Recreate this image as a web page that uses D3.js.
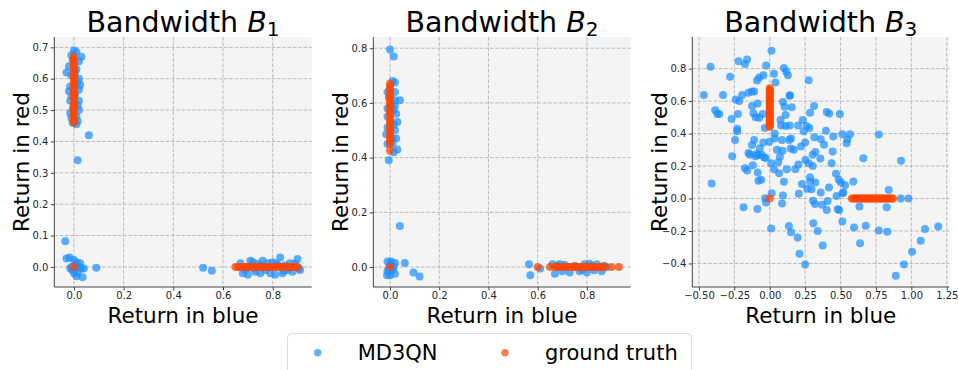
<!DOCTYPE html>
<html><head><meta charset="utf-8">
<script src="https://cdn.jsdelivr.net/npm/d3@7"></script>
<style>body{margin:0;background:#fff;}svg{display:block;font-family:"DejaVu Sans",sans-serif;}</style>
</head><body><svg id="c" width="958" height="370"></svg>
<script>
// ---------- data ----------
const titles = ["B1", "B2", "B3"];
const xTicksB1 = [0.0, 0.2, 0.4, 0.6, 0.8];
const yTicksB1 = [0.0, 0.1, 0.2, 0.3, 0.4, 0.5, 0.6, 0.7];
const xTicksB2 = [0.0, 0.2, 0.4, 0.6, 0.8];
const yTicksB2 = [0.0, 0.2, 0.4, 0.6, 0.8];
const xTicksB3 = [-0.5, -0.25, 0.0, 0.25, 0.5, 0.75, 1.0, 1.25];
const yTicksB3 = [-0.4, -0.2, 0.0, 0.2, 0.4, 0.6, 0.8];

const md3qnB1 = [
 [0.0,0.69],[0.01,0.685],[-0.01,0.675],[0.03,0.67],[-0.005,0.66],[0.02,0.655],[-0.02,0.64],[-0.03,0.62],[0.01,0.63],
 [0.02,0.6],[-0.01,0.61],[0.015,0.59],[-0.015,0.575],[0.02,0.565],[0.005,0.55],[-0.01,0.545],[0.02,0.53],[-0.015,0.53],
 [0.015,0.515],[-0.005,0.505],[0.02,0.5],[-0.015,0.49],[0.01,0.48],[-0.01,0.475],[0.015,0.465],[0.01,0.455],[-0.005,0.46],
 [0.005,0.58],[0.0,0.52],[0.005,0.62],[-0.02,0.56],[0.025,0.58],
 [0.06,0.42],[0.015,0.34],
 [-0.035,0.082],[-0.03,0.027],[-0.018,0.03],[0.0,0.022],[0.01,0.015],[-0.01,0.0],[0.02,0.0],[0.03,-0.005],[0.035,-0.033],
 [0.01,-0.03],[0.0,-0.02],[-0.005,-0.01],[0.015,-0.018],[0.04,-0.005],[0.09,-0.003],[0.005,0.005],[-0.015,-0.005],[0.025,0.012],
 [0.52,-0.003],[0.555,-0.012],
 [0.67,0.012],[0.68,-0.02],[0.69,-0.01],[0.7,-0.025],[0.71,0.02],[0.72,0.015],[0.73,-0.015],[0.74,0.01],[0.75,-0.02],
 [0.76,0.02],[0.77,-0.01],[0.78,0.012],[0.79,-0.02],[0.8,0.015],[0.81,-0.025],[0.82,0.005],[0.83,0.03],[0.84,-0.02],
 [0.85,0.005],[0.86,-0.01],[0.87,0.012],[0.88,-0.015],[0.89,0.01],[0.9,0.025],[0.91,-0.01],[0.905,-0.005],[0.7,0.0],
 [0.725,-0.005],[0.755,0.005],[0.795,0.0],[0.815,0.01],[0.845,-0.012]
];
const truthB1 = [
 [0,0.46],[0,0.47],[0,0.48],[0,0.49],[0,0.50],[0,0.51],[0,0.52],[0,0.53],[0,0.54],[0,0.55],[0,0.56],
 [0,0.57],[0,0.58],[0,0.59],[0,0.60],[0,0.61],[0,0.62],[0,0.63],[0,0.64],[0,0.65],[0,0.66],[0,0.67],
 [0,0],
 [0.65,0],[0.66,0],[0.67,0],[0.68,0],[0.69,0],[0.70,0],[0.71,0],[0.72,0],[0.73,0],[0.74,0],[0.75,0],[0.76,0],[0.77,0],
 [0.78,0],[0.79,0],[0.80,0],[0.81,0],[0.82,0],[0.83,0],[0.84,0],[0.85,0],[0.86,0],[0.87,0],[0.88,0],[0.89,0],[0.90,0]
];
const md3qnB2 = [
 [0.0,0.795],[0.015,0.77],[0.01,0.68],[0.02,0.675],[-0.01,0.64],[0.04,0.61],[0.02,0.59],[-0.01,0.55],[0.015,0.52],
 [-0.015,0.485],[0.02,0.5],[0.03,0.43],[0.015,0.42],[-0.005,0.39],[-0.01,0.45],[0.01,0.47],[0.025,0.56],[0.005,0.6],
 [0.02,0.64],[-0.01,0.58],[0.01,0.45],[0.03,0.53],[-0.005,0.62],[0.02,0.61],[0.025,0.47],[-0.01,0.51],[0.015,0.575],
 [0.04,0.15],[0.06,0.015],[0.095,-0.02],[0.12,-0.035],
 [-0.01,0.02],[0.0,0.01],[0.01,-0.01],[-0.01,-0.015],[0.0,-0.03],[0.02,-0.025],[0.005,0.02],[0.015,0.0],[-0.005,-0.005],
 [0.02,0.015],[-0.012,-0.03],
 [0.565,0.01],[0.57,-0.03],[0.61,-0.005],[0.66,0.01],[0.67,-0.025],[0.68,0.005],[0.7,-0.015],[0.72,0.0],[0.73,-0.02],
 [0.75,0.005],[0.77,-0.015],[0.79,0.01],[0.8,-0.02],[0.82,0.005],[0.84,0.01],[0.86,-0.015],[0.87,0.005],[0.88,0.0],
 [0.69,0.01],[0.76,0.0],[0.71,0.008],[0.78,-0.01],[0.81,0.012],[0.83,-0.012]
];
const truthB2 = [
 [0,0.425],[0,0.45],[0,0.46],[0,0.47],[0,0.48],[0,0.49],[0,0.50],[0,0.51],[0,0.52],[0,0.53],[0,0.54],[0,0.55],[0,0.56],
 [0,0.57],[0,0.58],[0,0.59],[0,0.60],[0,0.61],[0,0.62],[0,0.63],[0,0.64],[0,0.65],[0,0.66],[0,0.67],
 [0,0],
 [0.60,0],[0.65,0],[0.67,0],[0.68,0],[0.69,0],[0.70,0],[0.71,0],[0.72,0],[0.73,0],[0.74,0],[0.75,0],[0.76,0],[0.77,0],
 [0.78,0],[0.79,0],[0.80,0],[0.81,0],[0.82,0],[0.83,0],[0.84,0],[0.85,0],[0.86,0],[0.87,0],[0.90,0],[0.93,0]
];
const md3qnB3 = [
 [-0.465,0.637],[-0.418,0.812],[-0.41,0.092],[-0.385,0.544],[-0.37,0.52],[-0.356,0.52],[-0.33,0.637],[-0.28,0.75],
 [-0.27,0.49],[-0.265,0.26],[-0.245,0.36],[-0.24,0.61],[-0.23,0.43],[-0.225,0.52],[-0.22,0.845],[-0.215,0.6],[-0.23,0.415],
 [-0.195,0.637],[-0.175,0.828],[-0.185,-0.054],[-0.175,0.187],[-0.16,0.857],[-0.16,0.173],[-0.15,0.652],[-0.15,0.28],
 [-0.125,0.66],[-0.125,0.33],[-0.125,0.57],[-0.115,0.525],[-0.12,0.205],[-0.11,0.66],[-0.11,0.36],[-0.1,0.5],[-0.095,0.275],
 [-0.09,0.727],[-0.087,-0.064],[-0.085,0.16],[-0.08,0.109],[-0.075,0.745],[-0.08,0.268],[-0.075,0.498],[-0.085,0.586],
 [-0.06,0.115],[-0.07,0.31],[-0.05,0.52],[-0.045,0.759],[-0.045,0.345],[-0.04,0.254],[-0.033,0.002],[-0.026,-0.025],
 [-0.026,0.82],[-0.035,0.435],[0.012,0.91],[0.03,0.768],[0.04,0.714],[0.014,0.033],[0.01,-0.185],[0.01,0.217],[0.03,0.18],
 [0.035,0.37],[-0.002,0.35],[0.035,0.4],[0.06,0.224],[0.066,0.156],[0.072,0.258],[0.076,0.484],[0.086,0.36],[0.087,-0.031],
 [0.093,0.018],[0.093,0.595],[0.09,0.295],[0.1,0.103],[0.1,0.804],[0.105,0.566],[0.112,0.447],[0.112,0.515],[0.116,0.782],
 [0.12,0.18],[0.128,0.759],[0.135,-0.17],[0.137,0.36],[0.14,0.634],[0.142,0.45],[0.148,0.308],[0.15,0.37],[0.15,-0.207],
 [0.155,0.562],[0.143,0.634],[0.18,0.18],[0.197,-0.24],[0.202,0.21],[0.205,0.03],[0.21,-0.34],[0.22,0.32],[0.227,0.09],
 [0.233,0.484],[0.24,0.415],[0.25,-0.406],[0.25,0.345],[0.252,0.238],[0.26,0.447],[0.265,0.06],[0.275,0.728],[0.275,0.217],
 [0.28,0.435],[0.285,0.529],[0.285,0.131],[0.285,0.105],[0.295,0.057],[0.303,0.27],[0.303,0.2],[0.305,-0.014],[0.308,-0.152],
 [0.313,0.57],[0.315,0.378],[0.32,-0.033],[0.322,0.287],[0.322,0.098],[0.338,-0.2],[0.357,0.246],[0.36,0.037],[0.36,0.365],
 [0.37,-0.039],[0.374,-0.29],[0.383,0.332],[0.397,0.418],[0.402,-0.07],[0.402,0.533],[0.409,-0.016],[0.418,0.068],
 [0.42,0.523],[0.437,0.217],[0.444,0.289],[0.449,0.382],[0.468,0.152],[0.472,0.016],[0.48,-0.066],[0.487,0.115],[0.49,-0.07],
 [0.495,0.521],[0.503,0.098],[0.513,0.396],[0.513,0.033],[0.513,-0.142],[0.52,0.037],[0.532,0.082],[0.543,0.34],[0.548,0.365],
 [0.567,0.396],[0.59,0.105],[0.595,-0.178],[0.633,-0.049],[0.638,-0.275],[0.661,0.248],[0.678,-0.168],[0.77,-0.197],
 [0.77,0.394],[0.826,-0.053],[0.83,-0.205],[0.84,0.053],[0.927,0.232],[0.925,0.0],[0.98,0.0],[0.948,-0.406],[0.89,-0.476],
 [1.005,-0.328],[1.066,-0.26],[1.097,-0.187],[1.19,-0.172],
 [-0.14,0.27],[-0.057,0.268],[-0.03,0.25],[0.05,0.3],[-0.1,0.26],[0.08,0.45],[0.17,0.3],[0.2,0.45]
];
const truthB3 = [
 [0,0.44],[0,0.45],[0,0.46],[0,0.47],[0,0.48],[0,0.49],[0,0.50],[0,0.51],[0,0.52],[0,0.53],[0,0.54],[0,0.55],[0,0.56],
 [0,0.57],[0,0.58],[0,0.59],[0,0.60],[0,0.61],[0,0.62],[0,0.63],[0,0.64],[0,0.65],[0,0.66],[0,0.67],[0,0.68],
 [0,0],
 [0.58,0],[0.59,0],[0.60,0],[0.61,0],[0.62,0],[0.63,0],[0.64,0],[0.65,0],[0.66,0],[0.67,0],[0.68,0],[0.69,0],[0.70,0],
 [0.71,0],[0.72,0],[0.73,0],[0.74,0],[0.75,0],[0.76,0],[0.77,0],[0.78,0],[0.79,0],[0.80,0],[0.81,0],[0.82,0],[0.83,0],
 [0.84,0],[0.85,0],[0.86,0],[0.87,0]
];
const seriesNames = ["MD3QN", "ground truth"];

// ---------- layout ----------
const panels = [
  {sub:"1", x0:54.3, x1:311.7, xd:[-0.079,0.957], yd:[-0.064,0.733], xt:xTicksB1, yt:yTicksB1, fx:d3.format(".1f"), fy:d3.format(".1f"), blue:md3qnB1, red:truthB1},
  {sub:"2", x0:373.3, x1:630.7, xd:[-0.068,0.978], yd:[-0.073,0.841], xt:xTicksB2, yt:yTicksB2, fx:d3.format(".1f"), fy:d3.format(".1f"), blue:md3qnB2, red:truthB2},
  {sub:"3", x0:692.3, x1:949.3, xd:[-0.547,1.268], yd:[-0.545,0.995], xt:xTicksB3, yt:yTicksB3, fx:d3.format(".2f"), fy:d3.format(".1f"), blue:md3qnB3, red:truthB3}
];
const yTop = 37, yBot = 287;
const blueC = "#1e90ff", redC = "#ff4500";
const svg = d3.select("#c");
const minus = s => s.replace("-", "\u2212");

panels.forEach((p, i) => {
  const x = d3.scaleLinear().domain(p.xd).range([p.x0, p.x1]);
  const y = d3.scaleLinear().domain(p.yd).range([yBot, yTop]);
  const g = svg.append("g");
  g.append("rect").attr("x", p.x0).attr("y", yTop).attr("width", p.x1 - p.x0).attr("height", yBot - yTop).attr("fill", "#f4f4f4");
  // grid
  g.selectAll(".gx").data(p.xt).join("line").attr("x1", d => x(d)).attr("x2", d => x(d)).attr("y1", yTop).attr("y2", yBot)
    .attr("stroke", "#b5b5b5").attr("stroke-width", 0.9).attr("stroke-dasharray", "3.7,1.6");
  g.selectAll(".gy").data(p.yt).join("line").attr("y1", d => y(d)).attr("y2", d => y(d)).attr("x1", p.x0).attr("x2", p.x1)
    .attr("stroke", "#b5b5b5").attr("stroke-width", 0.9).attr("stroke-dasharray", "3.7,1.6");
  // axes
  const ax = g.append("g").attr("transform", `translate(0,${yBot})`)
    .call(d3.axisBottom(x).tickValues(p.xt).tickFormat(d => minus(p.fx(d))).tickSize(3.5).tickPadding(1.5));
  const ay = g.append("g").attr("transform", `translate(${p.x0},0)`)
    .call(d3.axisLeft(y).tickValues(p.yt).tickFormat(d => minus(p.fy(d))).tickSize(3.5).tickPadding(2.5));
  [ax, ay].forEach(a => {
    a.select(".domain").remove();
    a.selectAll("line").attr("stroke", "#444");
    a.selectAll("text").attr("font-size", 10).attr("fill", "#262626").attr("font-family", "DejaVu Sans");
  });
  g.append("line").attr("x1", p.x0).attr("x2", p.x0).attr("y1", yTop).attr("y2", yBot).attr("stroke", "#444").attr("stroke-width", 1);
  g.append("line").attr("x1", p.x0).attr("x2", p.x1).attr("y1", yBot).attr("y2", yBot).attr("stroke", "#444").attr("stroke-width", 1);
  // points
  g.append("g").selectAll("circle").data(p.blue).join("circle")
    .attr("cx", d => x(d[0])).attr("cy", d => y(d[1])).attr("r", 4).attr("fill", blueC).attr("fill-opacity", 0.72);
  g.append("g").selectAll("circle").data(p.red).join("circle")
    .attr("cx", d => x(d[0])).attr("cy", d => y(d[1])).attr("r", 4).attr("fill", redC).attr("fill-opacity", 0.75);
  // title
  const cx = (p.x0 + p.x1) / 2;
  const t = g.append("text").attr("x", cx).attr("y", 32).attr("text-anchor", "middle").attr("font-size", 28.5).attr("fill", "#000");
  t.append("tspan").text("Bandwidth ");
  t.append("tspan").attr("font-style", "italic").text("B");
  t.append("tspan").attr("font-size", 20).attr("dy", 4).text(p.sub);
  // labels
  g.append("text").attr("x", cx).attr("y", 322.5).attr("text-anchor", "middle").attr("font-size", 21.5).text("Return in blue");
  g.append("text").attr("transform", `translate(${p.x0 - 25.5},${(yTop + yBot) / 2}) rotate(-90)`).attr("text-anchor", "middle")
    .attr("font-size", 21.5).text("Return in red");
});

// legend
const lg = svg.append("g");
lg.append("rect").attr("x", 287.5).attr("y", 333.5).attr("width", 404).attr("height", 45).attr("rx", 4)
  .attr("fill", "#fff").attr("stroke", "#dcdcdc").attr("stroke-width", 1);
const legX = [317.7, 505];
seriesNames.forEach((n, i) => {
  lg.append("circle").attr("cx", legX[i]).attr("cy", 352.7).attr("r", 3.7).attr("fill", i ? redC : blueC).attr("fill-opacity", 0.7);
  lg.append("text").attr("x", legX[i] + 40).attr("y", 359.5).attr("font-size", 21).text(n);
});
</script></body></html>
